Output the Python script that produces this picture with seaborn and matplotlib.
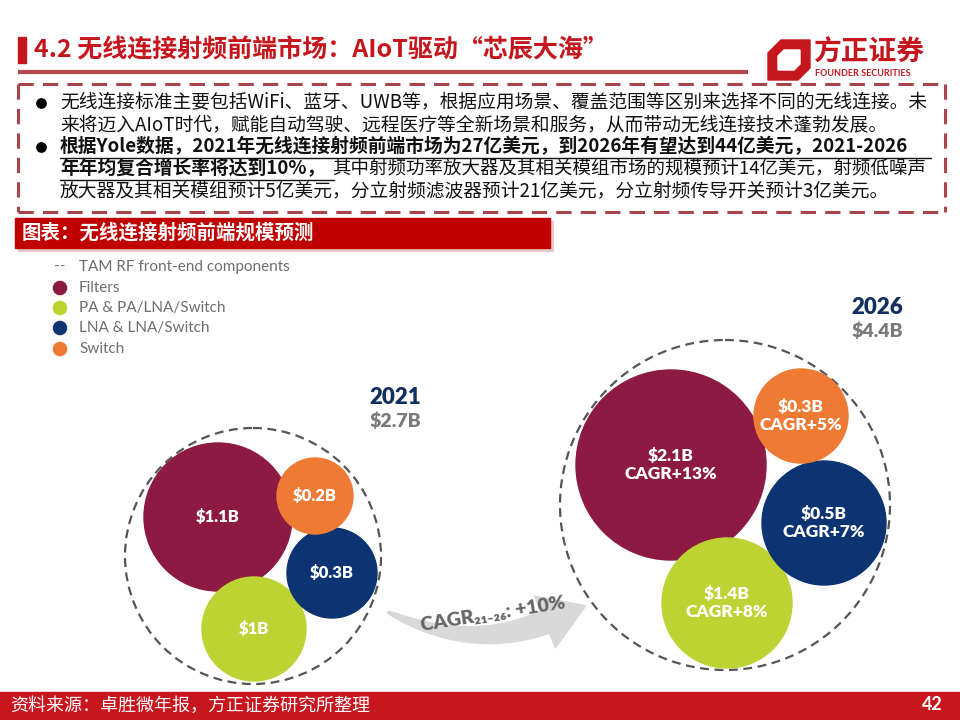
import numpy as np
import pandas as pd
import matplotlib
matplotlib.use("Agg")
import matplotlib.pyplot as plt
import seaborn as sns
from matplotlib.patches import Circle, Rectangle, Polygon

# ---- data ----
segments = ["Filters", "PA & PA/LNA/Switch", "LNA & LNA/Switch", "Switch"]
colors = ["#8C1A43", "#BDD233", "#0D3472", "#EE7A33"]
value_2021 = [1.1, 1.0, 0.3, 0.2]
value_2026 = [2.1, 1.4, 0.5, 0.3]
cagr_2026 = [13, 8, 7, 5]
years = ["2021", "2026"]
totals = [2.7, 4.4]
total_cagr = 10

title = "4.2 无线连接射频前端市场：AIoT驱动“芯辰大海”"
bullet1 = ["无线连接标准主要包括WiFi、蓝牙、UWB等，根据应用场景、覆盖范围等区别来选择不同的无线连接。未",
           "来将迈入AIoT时代，赋能自动驾驶、远程医疗等全新场景和服务，从而带动无线连接技术蓬勃发展。"]
bullet2_bold = ["根据Yole数据，2021年无线连接射频前端市场为27亿美元，到2026年有望达到44亿美元，2021-2026",
                "年年均复合增长率将达到10%，"]
bullet2_rest = ["其中射频功率放大器及其相关模组市场的规模预计14亿美元，射频低噪声",
                "放大器及其相关模组预计5亿美元，分立射频滤波器预计21亿美元，分立射频传导开关预计3亿美元。"]
chart_title = "图表：无线连接射频前端规模预测"
source = "资料来源：卓胜微年报，方正证券研究所整理"
page_no = "42"

# ---- layout (pixel space) ----
centers_2021 = [(218, 517), (254, 629), (332, 573), (315, 496)]
radii_2021 = [74, 52, 45, 38]
outer_2021 = ((253, 556), 128)
centers_2026 = [(671, 465), (727, 603), (824, 523), (801, 416)]
radii_2026 = [95, 65, 62, 47]
outer_2026 = ((725, 505), 165)

sns.set_theme(style="white")
CJK = ["Noto Sans CJK SC", "DejaVu Sans"]
LAT = ["Lato", "DejaVu Sans"]
plt.rcParams["font.family"] = CJK

RED = "#C5161D"
fig = plt.figure(figsize=(9.6, 7.2), dpi=100)
ax = fig.add_axes([0, 0, 1, 1])

# header
ax.add_patch(Rectangle((18, 37), 8, 26, color=RED))
ax.text(34, 50, title, fontsize=18, fontweight="bold", color=RED, va="center", ha="left")
ax.plot([18, 748], [72, 72], color="#B5474E", lw=3, solid_capstyle="butt")

# logo
ax.add_patch(Polygon([(781, 40), (810, 40), (810, 68), (798, 80), (768, 80), (768, 53)], closed=True, color=RED))
ax.add_patch(Polygon([(784, 50), (800, 50), (800, 64), (794, 70), (778, 70), (778, 56)], closed=True, color="white"))
ax.text(813, 53, "方正证券", fontsize=20, fontweight="bold", color=RED, va="center", ha="left")
ax.text(815, 73, "FOUNDER SECURITIES", fontsize=6.5, fontweight="bold", color=RED,
        va="center", ha="left", family=LAT)

# dashed box
box_kw = dict(color="#A8444C", lw=2.2, linestyle=(0, (5, 3)))
ax.plot([18, 945], [84, 84], **box_kw)
ax.plot([18, 945], [212, 212], **box_kw)
ax.plot([18, 18], [84, 212], **box_kw)
ax.plot([945, 945], [84, 212], **box_kw)

# bullet text
fs = 13.5
ax.scatter([41, 41], [103, 147], s=45, color="black", zorder=3)
ax.text(60, 103, bullet1[0], fontsize=fs, va="center", ha="left", color="#111111")
ax.text(60, 125, bullet1[1], fontsize=fs, va="center", ha="left", color="#111111")
renderer = fig.canvas.get_renderer()
t3 = ax.text(60, 147, bullet2_bold[0], fontsize=fs, fontweight="bold", va="center", ha="left", color="#111111")
t4 = ax.text(60, 169, bullet2_bold[1], fontsize=fs, fontweight="bold", va="center", ha="left", color="#111111")
e3 = t3.get_window_extent(renderer)
e4 = t4.get_window_extent(renderer)
ax.plot([60, e3.x1], [158, 158], color="#111111", lw=1)
ax.plot([60, e4.x1 - 14], [180, 180], color="#111111", lw=1)
x_rest = e4.x1 - 16
t5 = ax.text(x_rest, 169, bullet2_rest[0], fontsize=fs, va="center", ha="left", color="#111111")
e5 = t5.get_window_extent(renderer)
if e5.x1 > 932:
    t5.set_fontsize(fs * (932 - x_rest) / (e5.x1 - x_rest))
ax.text(60, 191, bullet2_rest[1], fontsize=fs, va="center", ha="left", color="#111111")

# chart title bar
ax.add_patch(Rectangle((18, 221), 535, 30, color="#E8C8C8", zorder=1))
ax.add_patch(Rectangle((15, 218), 535, 30, color="#C00000", zorder=2))
ax.text(22, 233, chart_title, fontsize=14, fontweight="bold", color="white", va="center", ha="left", zorder=3)

# legend
leg_y = [288, 308, 328, 349]
legend_df = pd.DataFrame({"x": [60] * 4, "y": leg_y, "segment": segments})
sns.scatterplot(data=legend_df, x="x", y="y", hue="segment", palette=dict(zip(segments, colors)),
                s=110, edgecolor="none", legend=False, ax=ax)
ax.text(54, 267, "--", fontsize=11, color="#6E6E6E", va="center", ha="left", family=LAT)
ax.text(79, 267, "TAM RF front-end components", fontsize=11, color="#6E6E6E", va="center",
        ha="left", family=LAT)
for yy, seg in zip(leg_y, segments):
    ax.text(79, yy, seg, fontsize=11, color="#6E6E6E", va="center", ha="left", family=LAT)

# bubbles 2021
(ox, oy), orad = outer_2021
ax.add_patch(Circle((ox, oy), orad, fill=False, ec="#555555", lw=1.6, ls=(0, (4, 2.5))))
for (cx, cy), r, v, c in zip(centers_2021, radii_2021, value_2021, colors):
    ax.add_patch(Circle((cx, cy), r, color=c, zorder=3))
    ax.text(cx, cy, f"\\${v:g}B", fontsize=12, fontweight="heavy", color="white",
            ha="center", va="center", family=LAT, zorder=4)

# bubbles 2026
(ox, oy), orad = outer_2026
ax.add_patch(Circle((ox, oy), orad, fill=False, ec="#555555", lw=1.6, ls=(0, (4, 2.5))))
for (cx, cy), r, v, g, c in zip(centers_2026, radii_2026, value_2026, cagr_2026, colors):
    ax.add_patch(Circle((cx, cy), r, color=c, zorder=3))
    ax.text(cx, cy, f"\\${v:g}B\nCAGR+{g}%", fontsize=12.5, fontweight="heavy", color="white",
            ha="center", va="center", family=LAT, linespacing=1.1, zorder=4)

# year labels
for (x, y), yr, tot in zip([(395, 398), (877, 308)], years, totals):
    ax.text(x, y, yr, fontsize=16, fontweight="heavy", color="#12305F", ha="center", va="center", family=LAT)
    ax.text(x, y + 23, f"\\${tot:g}B", fontsize=14, fontweight="heavy", color="#7A7A7A",
            ha="center", va="center", family=LAT)

# curved CAGR arrow
P0, C, P2 = np.array([388, 612]), np.array([470, 652]), np.array([545, 622])
t = np.linspace(0, 1, 60)[:, None]
B = (1 - t) ** 2 * P0 + 2 * (1 - t) * t * C + t ** 2 * P2
dB = 2 * (1 - t) * (C - P0) + 2 * t * (P2 - C)
tang = dB / np.linalg.norm(dB, axis=1, keepdims=True)
nrm = np.column_stack([-tang[:, 1], tang[:, 0]])
hw = (1 + 11 * t[:, 0] ** 0.7)[:, None]
upper = B + nrm * hw
lower = B - nrm * hw
tip = P2 + tang[-1] * 44
head = [P2 + nrm[-1] * 28, tip, P2 - nrm[-1] * 28]
poly = np.vstack([upper, head, lower[::-1]])
ax.add_patch(Polygon(poly, closed=True, color="#D9D9D9", zorder=1))
ax.text(493, 614, f"CAGR₂₁₋₂₆: +{total_cagr}%", fontsize=14, fontweight="heavy",
        color="#666666", rotation=9, ha="center", va="center", family=LAT, zorder=2)

# footer
ax.add_patch(Rectangle((0, 692), 960, 28, color="#C8161E"))
ax.text(10, 706, source, fontsize=13, color="white", va="center", ha="left")
ax.text(932, 704, page_no, fontsize=13, fontweight="bold", color="white", va="center", ha="center", family=LAT)

ax.set_xlim(0, 960)
ax.set_ylim(720, 0)
ax.axis("off")
fig.savefig("out.png", dpi=100)
